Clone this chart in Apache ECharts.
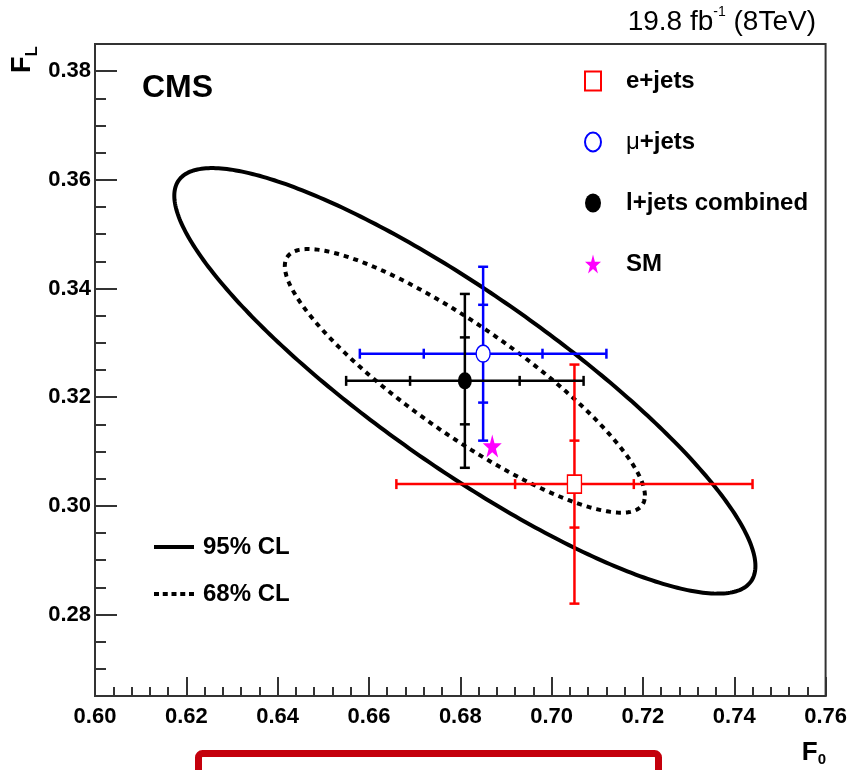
<!DOCTYPE html>
<html>
<head>
<meta charset="utf-8">
<title>F0 vs FL</title>
<script src="https://cdn.jsdelivr.net/npm/echarts@6/dist/echarts.min.js"></script>
<style>
  html, body { margin: 0; background: #fff; }
  #chart { width: 850px; height: 770px; }
</style>
</head>
<body>
<div id="chart"></div>
<script>
// W 螺旋度测量：F0 / FL 平面

const FONT = 'Liberation Sans';

// 各道测量值与误差（总误差 / 统计误差）
const measNames = ['e+jets', 'μ+jets', 'l+jets combined'];
const measF0 = [0.705, 0.685, 0.681];
const measFL = [0.304, 0.328, 0.323];
const errF0Tot = [0.039, 0.027, 0.026];
const errF0Stat = [0.013, 0.013, 0.012];
const errFLTot = [0.022, 0.016, 0.016];
const errFLStat = [0.008, 0.009, 0.008];
const measColors = ['#ff0000', '#0000ff', '#000000'];

// 标准模型预言
const smF0 = [0.687];
const smFL = [0.311];

// 合并结果的置信区域（中心和误差取 l+jets combined）
const clNames = ['95% CL', '68% CL'];
const clChi2 = [5.99, 2.30];
const corrF0FL = -0.87;

// 坐标轴
const xRange = [0.60, 0.76];
const yRange = [0.265, 0.385];

const STAR = 'path://M50,0L61.2,34.5L97.6,34.5L68.2,55.9L79.4,90.5L50,69.1L20.6,90.5L31.8,55.9L2.4,34.5L38.8,34.5Z';
const OVAL = 'path://M0,50A50,50 0 1,0 100,50A50,50 0 1,0 0,50Z';

function errBarItem(color) {
  return function (params, api) {
    const x = api.value(0), y = api.value(1);
    const ex = api.value(2), ey = api.value(3), sx = api.value(4), sy = api.value(5);
    const c = 5;
    const seg = (a, b) => ({
      type: 'line',
      shape: { x1: a[0], y1: a[1], x2: b[0], y2: b[1] },
      style: { stroke: color, lineWidth: 2.5 }
    });
    const l = api.coord([x - ex, y]), r = api.coord([x + ex, y]);
    const t = api.coord([x, y + ey]), b = api.coord([x, y - ey]);
    const children = [seg(l, r), seg(t, b)];
    [l, r, api.coord([x - sx, y]), api.coord([x + sx, y])]
      .forEach(q => children.push(seg([q[0], q[1] - c], [q[0], q[1] + c])));
    [t, b, api.coord([x, y + sy]), api.coord([x, y - sy])]
      .forEach(q => children.push(seg([q[0] - c, q[1]], [q[0] + c, q[1]])));
    return { type: 'group', children };
  };
}

function ellipseItem(dash) {
  return function (params, api) {
    const cx = api.value(0), cy = api.value(1), sx = api.value(2), sy = api.value(3);
    const rho = api.value(4), k = Math.sqrt(api.value(5));
    const pts = [];
    for (let j = 0; j < 360; j++) {
      const t = j / 360 * 2 * Math.PI;
      pts.push(api.coord([
        cx + k * sx * Math.cos(t),
        cy + k * sy * (rho * Math.cos(t) + Math.sqrt(1 - rho * rho) * Math.sin(t))
      ]));
    }
    return {
      type: 'polygon',
      shape: { points: pts },
      style: { fill: 'none', stroke: '#000', lineWidth: 4, lineDash: dash }
    };
  };
}

const iComb = 2;
const series = [];

clNames.forEach((name, i) => {
  series.push({
    name,
    type: 'custom',
    z: 1,
    silent: true,
    itemStyle: { color: '#000' },
    renderItem: ellipseItem(i === 0 ? null : [5, 5]),
    data: [[measF0[iComb], measFL[iComb], errF0Tot[iComb], errFLTot[iComb], corrF0FL, clChi2[i]]]
  });
});

[0, 1, 2].forEach(i => {
  series.push({
    name: measNames[i] + ' err',
    type: 'custom',
    z: 2,
    silent: true,
    renderItem: errBarItem(measColors[i]),
    data: [[measF0[i], measFL[i], errF0Tot[i], errFLTot[i], errF0Stat[i], errFLStat[i]]]
  });
});

series.push(
  {
    name: measNames[0], type: 'scatter', z: 3, symbol: 'rect', symbolSize: [14, 18],
    itemStyle: { color: '#fff', borderColor: measColors[0], borderWidth: 1.5, opacity: 1 },
    data: [[measF0[0], measFL[0]]]
  },
  {
    name: measNames[1], type: 'scatter', z: 3, symbol: OVAL, symbolSize: [14, 17],
    itemStyle: { color: '#fff', borderColor: measColors[1], borderWidth: 1.5, opacity: 1 },
    data: [[measF0[1], measFL[1]]]
  },
  {
    name: measNames[2], type: 'scatter', z: 3, symbol: OVAL, symbolSize: [14, 17],
    itemStyle: { color: measColors[2], opacity: 1 },
    data: [[measF0[2], measFL[2]]]
  },
  {
    name: 'SM', type: 'scatter', z: 4, symbol: STAR, symbolSize: [19, 23],
    itemStyle: { color: '#ff00ff', opacity: 1 },
    data: smF0.map((v, i) => [v, smFL[i]])
  }
);

const axisCol = '#333';
const chart = echarts.init(document.getElementById('chart'));
chart.setOption({
  animation: false,
  grid: { left: 95, right: 23, top: 44, bottom: 74, show: true, borderColor: axisCol, borderWidth: 2 },
  xAxis: {
    type: 'value', min: xRange[0], max: xRange[1], interval: 0.02,
    axisLine: { show: true, lineStyle: { color: axisCol, width: 2 } },
    axisTick: { inside: true, length: 19, lineStyle: { color: axisCol, width: 2 } },
    minorTick: { show: true, splitNumber: 5, length: 9, lineStyle: { color: axisCol, width: 2 } },
    splitLine: { show: false },
    axisLabel: {
      margin: 10, color: '#000', fontFamily: FONT, fontWeight: 'bold', fontSize: 22,
      formatter: v => v.toFixed(2)
    }
  },
  yAxis: [
    {
      type: 'value', min: yRange[0], max: yRange[1], interval: 0.005, position: 'left',
      axisLine: { show: true, lineStyle: { color: axisCol, width: 2 } },
      axisTick: { inside: true, length: 11, lineStyle: { color: axisCol, width: 2 } },
      splitLine: { show: false },
      axisLabel: {
        margin: 4, color: '#000', fontFamily: FONT, fontWeight: 'bold', fontSize: 22,
        formatter: v => (Math.abs(v * 50 - Math.round(v * 50)) < 1e-6 ? v.toFixed(2) : '')
      }
    },
    {
      type: 'value', min: yRange[0], max: yRange[1], splitNumber: 6, position: 'left', offset: 0,
      axisLine: { show: false },
      axisTick: { inside: true, length: 22, lineStyle: { color: axisCol, width: 2 } },
      splitLine: { show: false },
      axisLabel: { show: false }
    }
  ],
  legend: [
    {
      data: ['e+jets', 'μ+jets', 'l+jets combined', 'SM'],
      orient: 'vertical', left: 579, top: 61,
      itemWidth: 16, itemHeight: 19, itemGap: 31,
      symbolKeepAspect: false, selectedMode: false,
      formatter: n => n.replace('μ', '{mu|μ}'),
      textStyle: {
        fontFamily: FONT, fontWeight: 'bold', fontSize: 24, color: '#000', lineHeight: 30,
        padding: [0, 0, 0, 20],
        rich: { mu: { fontFamily: FONT, fontWeight: 'normal', fontSize: 24, color: '#000', lineHeight: 30 } }
      }
    },
    {
      data: [
        { name: '95% CL', icon: 'path://M0,0H40V4H0Z' },
        { name: '68% CL', icon: 'path://M0,0h5v4h-5zM8.75,0h5v4h-5zM17.5,0h5v4h-5zM26.25,0h5v4h-5zM35,0h5v4h-5z' }
      ],
      orient: 'vertical', left: 149, top: 528,
      itemWidth: 40, itemHeight: 4, itemGap: 19, selectedMode: false,
      itemStyle: { color: '#000', borderWidth: 0 },
      textStyle: {
        fontFamily: FONT, fontWeight: 'bold', fontSize: 24, color: '#000', lineHeight: 28,
        padding: [0, 0, 0, 4]
      }
    }
  ],
  graphic: [
    {
      type: 'text', x: 142, y: 88.5,
      style: { text: 'CMS', font: 'bold 32px "Liberation Sans"', fill: '#000', verticalAlign: 'middle' }
    },
    {
      type: 'text', x: 816, y: 22.5,
      style: {
        text: '{a|19.8 fb}{s|-1}{a| (8TeV)}', align: 'right', verticalAlign: 'middle',
        rich: {
          a: { fontFamily: FONT, fontSize: 28, lineHeight: 34, fill: '#000' },
          s: { fontFamily: FONT, fontSize: 14, lineHeight: 23, verticalAlign: 'top', fill: '#000' }
        }
      }
    },
    {
      type: 'text', x: 23, y: 59.5, rotation: Math.PI / 2,
      style: {
        text: '{f|F}{s|L}', align: 'center', verticalAlign: 'middle',
        rich: {
          f: { fontFamily: FONT, fontWeight: 'bold', fontSize: 27, lineHeight: 36, fill: '#000' },
          s: { fontFamily: FONT, fontWeight: 'bold', fontSize: 17, lineHeight: 14, verticalAlign: 'bottom', fill: '#000' }
        }
      }
    },
    {
      type: 'text', x: 826, y: 752.5,
      style: {
        text: '{f|F}{s|0}', align: 'right', verticalAlign: 'middle',
        rich: {
          f: { fontFamily: FONT, fontWeight: 'bold', fontSize: 26, lineHeight: 30, fill: '#000' },
          s: { fontFamily: FONT, fontWeight: 'bold', fontSize: 15, lineHeight: 15, verticalAlign: 'bottom', fill: '#000' }
        }
      }
    },
    {
      type: 'rect', shape: { x: 198.5, y: 753.5, width: 460, height: 40, r: 4 },
      style: { fill: 'none', stroke: '#c4000c', lineWidth: 7 }
    }
  ],
  series
});
</script>
</body>
</html>
